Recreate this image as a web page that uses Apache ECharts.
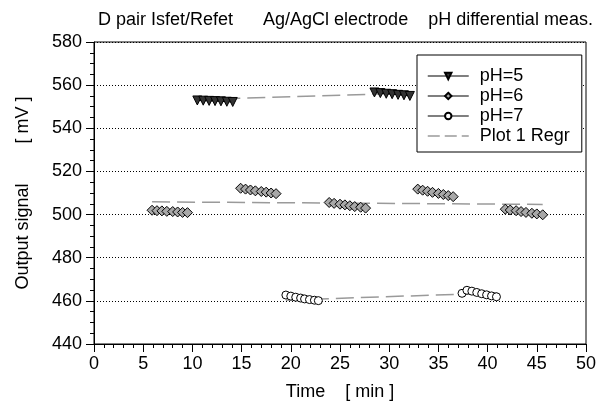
<!DOCTYPE html>
<html>
<head>
<meta charset="utf-8">
<script src="https://cdn.jsdelivr.net/npm/echarts@6/dist/echarts.min.js"></script>
<style>
  html, body { margin: 0; padding: 0; background: #fff; }
  #chart { width: 606px; height: 416px; }
</style>
</head>
<body>
<div id="chart"></div>
<script>
// time [min] / output signal [mV], null separates the measurement runs
var ph5Time = [10.5, 11.1, 11.7, 12.3, 12.9, 13.5, 14.1, null,
               28.5, 29.1, 29.7, 30.3, 30.9, 31.5, 32.1];
var ph5Signal = [552.9, 552.8, 552.7, 552.6, 552.5, 552.3, 552.2, null,
                 556.6, 556.3, 556.0, 555.8, 555.5, 555.3, 555.0];

var ph6Time = [5.9, 6.4, 6.9, 7.4, 8.0, 8.5, 9.0, 9.5, null,
               14.9, 15.4, 15.9, 16.4, 17.0, 17.5, 18.0, 18.5, null,
               23.9, 24.4, 25.0, 25.5, 26.0, 26.5, 27.1, 27.6, null,
               32.9, 33.4, 33.9, 34.4, 35.0, 35.5, 36.0, 36.5, null,
               41.8, 42.3, 42.9, 43.4, 43.9, 44.5, 45.0, 45.6];
var ph6Signal = [502.0, 501.8, 501.7, 501.5, 501.4, 501.2, 501.0, 500.9, null,
                 512.2, 511.8, 511.4, 511.0, 510.7, 510.4, 510.0, 509.7, null,
                 505.6, 505.2, 504.8, 504.5, 504.1, 503.7, 503.4, 503.0, null,
                 511.8, 511.3, 510.8, 510.3, 509.8, 509.3, 508.8, 508.3, null,
                 502.5, 502.1, 501.8, 501.4, 501.0, 500.6, 500.3, 499.9];

var ph7Time = [19.5, 20.0, 20.5, 21.0, 21.4, 21.9, 22.4, 22.8, null,
               37.4, 37.9, 38.4, 38.9, 39.4, 39.9, 40.4, 40.9];
var ph7Signal = [462.7, 462.2, 461.7, 461.3, 460.9, 460.6, 460.3, 460.1, null,
                 463.5, 464.9, 464.5, 463.9, 463.3, 462.8, 462.3, 461.9];

// regression lines (start / end)
var regrPh5 = [[10.5, 553.3], [32.1, 556.3]];
var regrPh6 = [[5.9, 505.9], [45.6, 504.7]];
var regrPh7 = [[19.5, 460.3], [41.0, 463.7]];

var xTicks = { min: 0, max: 50, step: 5 };
var yTicks = { min: 440, max: 580, step: 20 };

var FONT = 'Liberation Sans, Arial, sans-serif';
var REGR_DASH = [18, 7];

function pairs(t, v) {
    return t.map(function (x, i) {
        return x === null ? ['-', '-'] : [x, v[i]];
    });
}

var chart = echarts.init(document.getElementById('chart'), null, { renderer: 'canvas' });

function measSeries(name, t, v, symbol, color, rotate, size) {
    return {
        name: name,
        type: 'line',
        data: pairs(t, v),
        symbol: symbol,
        symbolSize: size,
        symbolRotate: rotate,
        showAllSymbol: true,
        connectNulls: false,
        z: 3,
        lineStyle: { color: '#000', width: 1 },
        itemStyle: { color: color, borderColor: '#000', borderWidth: 1, opacity: 1 }
    };
}

function regrSeries(d) {
    return {
        name: 'Plot 1 Regr',
        type: 'line',
        data: d,
        symbol: 'none',
        z: 2,
        lineStyle: { color: '#9a9a9a', width: 1.5, type: REGR_DASH },
        itemStyle: { color: '#9a9a9a' }
    };
}

var option = {
    backgroundColor: '#ffffff',
    animation: false,
    textStyle: { fontFamily: FONT },
    title: {
        text: 'D pair Isfet/Refet      Ag/AgCl electrode    pH differential meas.',
        left: 93,
        top: 6,
        textStyle: { fontSize: 18, fontWeight: 'normal', color: '#000', fontFamily: FONT }
    },
    grid: {
        left: 94, right: 20, top: 42, bottom: 72,
        show: true, borderColor: '#000', borderWidth: 1, backgroundColor: 'transparent'
    },
    legend: {
        orient: 'vertical',
        left: 417,
        top: 55,
        padding: [11, 12, 6, 10],
        itemGap: 0,
        itemWidth: 41,
        itemHeight: 8,
        backgroundColor: '#fff',
        borderColor: '#000',
        borderWidth: 1,
        borderRadius: 0,
        textStyle: { fontSize: 18, color: '#000', fontFamily: FONT, lineHeight: 20, width: 88, padding: [0, 0, 0, 6] },
        data: [
            { name: 'pH=5', lineStyle: { width: 1.2, color: '#000' } },
            { name: 'pH=6', lineStyle: { width: 1.2, color: '#000' } },
            { name: 'pH=7', lineStyle: { width: 1.2, color: '#000' } },
            { name: 'Plot 1 Regr', itemStyle: { opacity: 0 },
              lineStyle: { width: 1.5, color: '#9a9a9a', type: [12, 5] } }
        ]
    },
    xAxis: {
        type: 'value',
        min: xTicks.min, max: xTicks.max, interval: xTicks.step,
        name: 'Time    [ min ]',
        nameLocation: 'middle',
        nameGap: 39,
        nameTextStyle: { fontSize: 18, color: '#000', fontFamily: FONT },
        axisLine: { lineStyle: { color: '#000', width: 1 } },
        axisTick: { show: true, length: 8, lineStyle: { color: '#000' } },
        minorTick: { show: true, splitNumber: 5, length: 4, lineStyle: { color: '#000' } },
        axisLabel: { fontSize: 18, color: '#000', margin: 11, fontFamily: FONT },
        splitLine: { show: false }
    },
    yAxis: {
        type: 'value',
        min: yTicks.min, max: yTicks.max, interval: yTicks.step,
        name: 'Output signal        [ mV ]',
        nameLocation: 'middle',
        nameGap: 62,
        nameTextStyle: { fontSize: 18, color: '#000', fontFamily: FONT },
        axisLine: { lineStyle: { color: '#000', width: 1 } },
        axisTick: { show: true, length: 8, lineStyle: { color: '#000' } },
        minorTick: { show: true, splitNumber: 4, length: 4, lineStyle: { color: '#000' } },
        axisLabel: { fontSize: 18, color: '#000', margin: 12, fontFamily: FONT },
        splitLine: { show: true, lineStyle: { color: '#000', width: 1, type: [1, 2] } }
    },
    series: [
        measSeries('pH=5', ph5Time, ph5Signal, 'triangle', '#333333', 180, 9),
        measSeries('pH=6', ph6Time, ph6Signal, 'diamond', '#a8a8a8', 0, 10),
        measSeries('pH=7', ph7Time, ph7Signal, 'circle', '#ffffff', 0, 8),
        regrSeries(regrPh5),
        regrSeries(regrPh6),
        regrSeries(regrPh7)
    ]
};

chart.setOption(option);
</script>
</body>
</html>
